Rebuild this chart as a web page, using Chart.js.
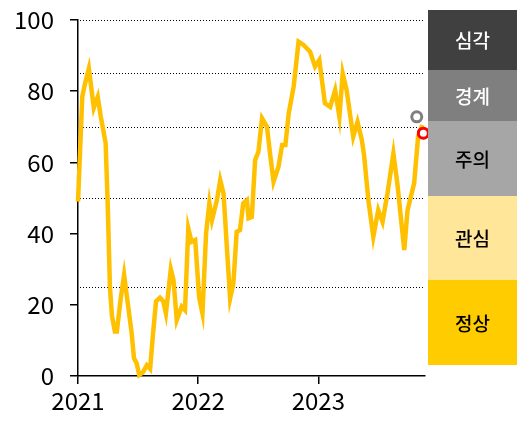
<!DOCTYPE html>
<html>
<head>
<meta charset="utf-8">
<script src="https://cdn.jsdelivr.net/npm/chart.js@4"></script>
<style>
  body { margin: 0; background: #fff; }
  canvas { display: block; }
</style>
</head>
<body>
<canvas id="riskChart" width="531" height="429"></canvas>
<script>
// 지수 추이 (주간 근사값, 그림에서 읽은 값)
const dates = [
  '2021-01-01', '2021-01-14', '2021-01-22', '2021-02-03', '2021-02-18', '2021-03-02', '2021-03-11', '2021-03-26',
  '2021-04-01', '2021-04-08', '2021-04-14', '2021-04-23', '2021-04-29', '2021-05-11', '2021-05-21', '2021-05-30',
  '2021-06-13', '2021-06-20', '2021-06-28', '2021-07-06', '2021-07-17', '2021-07-29', '2021-08-08', '2021-08-17',
  '2021-08-26', '2021-09-07', '2021-09-17', '2021-09-25', '2021-10-10', '2021-10-18', '2021-10-28', '2021-11-12',
  '2021-11-22', '2021-12-02', '2021-12-12', '2021-12-23', '2022-01-04', '2022-01-14', '2022-01-25', '2022-02-04',
  '2022-02-12', '2022-02-27', '2022-03-09', '2022-03-19', '2022-03-30', '2022-04-08', '2022-04-18', '2022-04-28',
  '2022-05-08', '2022-05-18', '2022-05-29', '2022-06-03', '2022-06-13', '2022-06-23', '2022-07-03', '2022-07-14',
  '2022-07-29', '2022-08-08', '2022-08-18', '2022-09-02', '2022-09-13', '2022-09-23', '2022-10-03', '2022-10-18',
  '2022-11-02', '2022-11-17', '2022-12-07', '2022-12-22', '2023-01-04', '2023-01-21', '2023-02-06', '2023-02-21',
  '2023-03-06', '2023-03-16', '2023-03-28', '2023-04-17', '2023-04-30', '2023-05-13', '2023-05-20', '2023-06-02',
  '2023-06-17', '2023-07-02', '2023-07-15', '2023-07-30', '2023-08-17', '2023-08-29', '2023-09-19', '2023-09-29',
  '2023-10-19', '2023-10-31', '2023-11-13'
];
const values = [
  49, 78.5, 82, 86.4, 75.3, 78.4, 73, 65.4,
  49, 25, 17, 12.5, 12.5, 22, 28.4, 22,
  12, 5, 3.6, 0.3, 1, 3, 2, 12,
  21, 22, 21, 17.6, 30, 27, 15.7, 19.5,
  18.5, 41.5, 37.7, 38.2, 22, 17.6, 40, 48.5,
  43.8, 49.4, 55, 51.3, 35, 21.8, 26, 40.5,
  41, 48.5, 49.4, 44.3, 44.7, 60.7, 63, 72.4,
  70, 62, 54.6, 58.8, 64.9, 64.9, 73.8, 81.3,
  93.9, 93, 91.1, 86.9, 88.8, 76.6, 75.6, 80.3,
  72.8, 85, 80.3, 67.2, 71.4, 66.3, 62, 49.4,
  39.1, 46.6, 43.3, 51.3, 62.5, 54.1, 35.4, 46.6,
  54.1, 67.2, 70.5
];

// 끝 부분 표시 점 (회색: 이전, 빨강: 최근)
const markerDates = ['2023-10-27', '2023-11-16'];
const markerValues = [72.8, 68.2];
const markerColors = ['#7f7f7f', '#ff0000'];

const yTicks = [0, 20, 40, 60, 80, 100];
const xTickYears = [2021, 2022, 2023];
const xEnd = '2023-11-21';
// 단계 경계선 (점선)
const alertLevels = [25, 50, 70, 85, 100];
const stageNames = ['심각', '경계', '주의', '관심', '정상'];
const stageColors = ['#404040', '#7f7f7f', '#a6a6a6', '#ffe699', '#ffcc00'];
const stageTextColors = ['#ffffff', '#ffffff', '#000000', '#000000', '#000000'];

const FONT = '"Noto Sans CJK KR", "Noto Sans", sans-serif';

function toX(s) {
    const d = new Date(s + 'T00:00:00Z');
    const y = d.getUTCFullYear();
    const start = Date.UTC(y, 0, 1);
    return y + (d.getTime() - start) / (Date.UTC(y + 1, 0, 1) - start);
}

const levelLines = {
    id: 'levelLines',
    beforeDatasetsDraw(chart) {
        const ctx = chart.ctx;
        const a = chart.chartArea;
        const ys = chart.scales.y;
        ctx.save();
        ctx.strokeStyle = '#000';
        ctx.lineWidth = 1;
        ctx.setLineDash([1, 2]);
        alertLevels.forEach(v => {
            const py = Math.round(ys.getPixelForValue(v)) + 0.5;
            ctx.beginPath();
            ctx.moveTo(a.left + 2, py);
            ctx.lineTo(a.right, py);
            ctx.stroke();
        });
        ctx.restore();
    }
};

// 오른쪽 단계 표
const stagePanel = {
    id: 'stagePanel',
    afterDraw(chart) {
        const ctx = chart.ctx;
        const left = 428, w = 89;
        const edges = [10, 70, 121, 196, 280, 365];
        ctx.save();
        ctx.textAlign = 'center';
        ctx.textBaseline = 'middle';
        stageNames.forEach((name, i) => {
            ctx.fillStyle = stageColors[i];
            ctx.fillRect(left, edges[i], w, edges[i + 1] - edges[i]);
            ctx.fillStyle = stageTextColors[i];
            ctx.font = '500 19px ' + FONT;
            ctx.fillText(name, left + w / 2, (edges[i] + edges[i + 1]) / 2 + 1);
        });
        ctx.restore();
    }
};

const ctx = document.getElementById('riskChart').getContext('2d');
new Chart(ctx, {
    type: 'line',
    data: {
        datasets: [
            {
                data: dates.map((d, i) => ({ x: toX(d), y: values[i] })),
                borderColor: '#ffc000',
                borderWidth: 4.5,
                pointRadius: 0,
                tension: 0,
                fill: false,
                clip: 6,
                order: 2
            },
            {
                data: markerDates.map((d, i) => ({ x: toX(d), y: markerValues[i] })),
                showLine: false,
                pointRadius: 5,
                pointBorderWidth: 3,
                pointBackgroundColor: '#ffffff',
                pointBorderColor: markerColors,
                clip: false,
                order: 1
            }
        ]
    },
    options: {
        responsive: false,
        animation: false,
        layout: { padding: { top: 20, right: 106, left: 0, bottom: 0 } },
        plugins: {
            legend: { display: false },
            tooltip: { enabled: false }
        },
        scales: {
            x: {
                type: 'linear',
                min: toX('2021-01-01'),
                max: toX(xEnd),
                afterBuildTicks: s => { s.ticks = xTickYears.map(v => ({ value: v })); },
                afterFit: s => { s.height = 53; s.paddingLeft = 0; s.paddingRight = 0; },
                grid: { drawOnChartArea: false, drawTicks: true, tickLength: 8, color: '#000', lineWidth: 1.5 },
                border: { color: '#000', width: 1.5 },
                ticks: {
                    color: '#000',
                    font: { family: FONT, size: 24 },
                    padding: 2,
                    callback: v => String(v)
                }
            },
            y: {
                min: 0,
                max: 100,
                afterBuildTicks: s => { s.ticks = yTicks.map(v => ({ value: v })); },
                afterFit: s => { s.width = 78; s.paddingTop = 0; s.paddingBottom = 0; },
                grid: { drawOnChartArea: false, drawTicks: true, tickLength: 8, color: '#000', lineWidth: 1.5 },
                border: { color: '#000', width: 1.5 },
                ticks: {
                    color: '#000',
                    font: { family: FONT, size: 24 },
                    padding: 16
                }
            }
        }
    },
    plugins: [levelLines, stagePanel]
});
</script>
</body>
</html>
